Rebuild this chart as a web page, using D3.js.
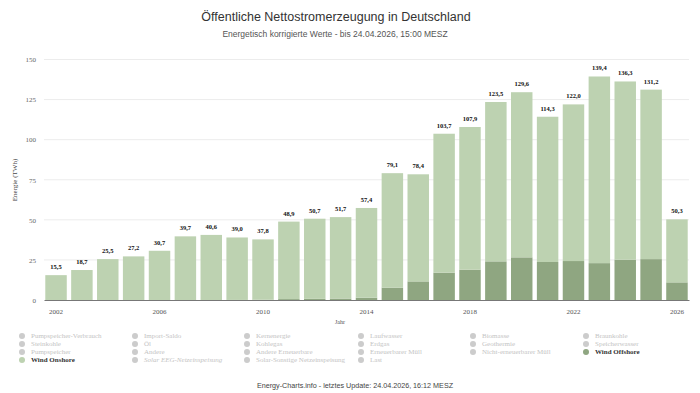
<!DOCTYPE html>
<html><head><meta charset="utf-8">
<script src="https://cdn.jsdelivr.net/npm/d3@7"></script>
<style>body{margin:0;background:#fff}svg{display:block}</style>
</head><body>
<svg id="c" width="700" height="393"></svg>
<script>
const years = [2002,2003,2004,2005,2006,2007,2008,2009,2010,2011,2012,2013,2014,2015,2016,2017,2018,2019,2020,2021,2022,2023,2024,2025,2026];
const totals = [15.5,18.7,25.5,27.2,30.7,39.7,40.6,39.0,37.8,48.9,50.7,51.7,57.4,79.1,78.4,103.7,107.9,123.5,129.6,114.3,122.0,139.4,136.3,131.2,50.3];
const offshore = [0,0,0,0,0,0,0,0.04,0.17,0.57,0.72,0.9,1.4,7.7,11.6,17.0,18.9,24.1,26.6,23.7,24.3,23.0,25.1,25.5,11.0];
const onshore = totals.map((t,i)=>+(t-offshore[i]).toFixed(2));
const yTicks = [0,25,50,75,100,125,150];
const xTickYears = [2002,2006,2010,2014,2018,2022,2026];
const legendItems = ["Pumpspeicher-Verbrauch","Import-Saldo","Kernenergie","Laufwasser","Biomasse","Braunkohle",
 "Steinkohle","Öl","Kohlegas","Erdgas","Geothermie","Speicherwasser",
 "Pumpspeicher","Andere","Andere Erneuerbare","Erneuerbarer Müll","Nicht-erneuerbarer Müll","Wind Offshore",
 "Wind Onshore","Solar EEG-Netzeinspeisung","Solar-Sonstige Netzeinspeisung","Last"];
const activeColors = {"Wind Onshore":"#bdd2b1","Wind Offshore":"#8fa681"};

const svg = d3.select("#c");
const serif = "'Liberation Serif','Times New Roman',serif";
const sans = "'Liberation Sans',Arial,sans-serif";

svg.append("text").attr("x",336).attr("y",21).attr("text-anchor","middle")
  .attr("font-family",sans).attr("font-size",12.5).attr("fill","#333")
  .text("Öffentliche Nettostromerzeugung in Deutschland");
svg.append("text").attr("x",335).attr("y",37).attr("text-anchor","middle")
  .attr("font-family",sans).attr("font-size",8.5).attr("fill","#555")
  .text("Energetisch korrigierte Werte - bis 24.04.2026, 15:00 MESZ");

const x = d3.scaleBand().domain(years).range([44,689]).paddingInner(0.17).paddingOuter(0.05);
const y = d3.scaleLinear().domain([0,150]).range([300,59.5]);

// grid
svg.append("g").selectAll("line").data(yTicks.filter(d=>d>0)).join("line")
  .attr("x1",44).attr("x2",689).attr("y1",d=>y(d)).attr("y2",d=>y(d))
  .attr("stroke","#ececec").attr("stroke-width",1);

// y axis labels
const ya = svg.append("g").attr("transform","translate(36,0)")
  .call(d3.axisLeft(y).tickValues(yTicks).tickSize(0).tickPadding(0));
ya.select(".domain").remove();
ya.selectAll("text").attr("font-family",serif).attr("font-size",7).attr("fill","#666");

svg.append("text").attr("transform","translate(17,180) rotate(-90)").attr("text-anchor","middle")
  .attr("font-family",serif).attr("font-size",7).attr("fill","#444").text("Energie (TWh)");

// stacked bars
const rows = years.map((yr,i)=>({year:yr, off:offshore[i], on:onshore[i], total:totals[i]}));
const stack = d3.stack().keys(["off","on"])(rows);
const colors = {off:activeColors["Wind Offshore"], on:activeColors["Wind Onshore"]};
svg.append("g").selectAll("g").data(stack).join("g").attr("fill",d=>colors[d.key])
  .selectAll("rect").data(d=>d).join("rect")
  .attr("x",d=>x(d.data.year)).attr("width",x.bandwidth())
  .attr("y",d=>y(d[1])).attr("height",d=>Math.max(0,y(d[0])-y(d[1])));

// value labels
svg.append("g").selectAll("text").data(rows).join("text")
  .attr("x",d=>x(d.year)+x.bandwidth()/2).attr("y",d=>y(d.total)-6)
  .attr("text-anchor","middle").attr("font-family",serif).attr("font-weight","bold")
  .attr("font-size",6.5).attr("fill","#111")
  .text(d=>d3.format(".1f")(d.total).replace(".",","));

// x axis
const xa = svg.append("g").attr("transform","translate(0,300)")
  .call(d3.axisBottom(x).tickValues(xTickYears).tickSize(0).tickPadding(9));
xa.select(".domain").attr("stroke","#777");
xa.selectAll("text").attr("font-family",serif).attr("font-size",7).attr("fill","#555");
svg.append("text").attr("x",340).attr("y",324).attr("text-anchor","middle")
  .attr("font-family",serif).attr("font-size",6).attr("fill","#555").text("Jahr");

// legend
const colX = [22,135,247,361,473,586];
const lg = svg.append("g").selectAll("g").data(legendItems).join("g")
  .attr("transform",(d,i)=>`translate(${colX[i%6]},${336+Math.floor(i/6)*8})`);
lg.append("circle").attr("r",3).attr("fill",d=>activeColors[d]||"#cccccc");
lg.append("text").attr("x",9).attr("y",2.4).attr("font-family",serif).attr("font-size",7)
  .attr("font-weight",d=>activeColors[d]?"bold":"normal")
  .attr("font-style",d=>d==="Solar EEG-Netzeinspeisung"?"italic":"normal")
  .attr("fill",d=>activeColors[d]?"#333":"#c4c4c4").text(d=>d);

svg.append("text").attr("x",355).attr("y",388).attr("text-anchor","middle")
  .attr("font-family",sans).attr("font-size",7.2).attr("fill","#444")
  .text("Energy-Charts.info - letztes Update: 24.04.2026, 16:12 MESZ");
</script>
</body></html>
